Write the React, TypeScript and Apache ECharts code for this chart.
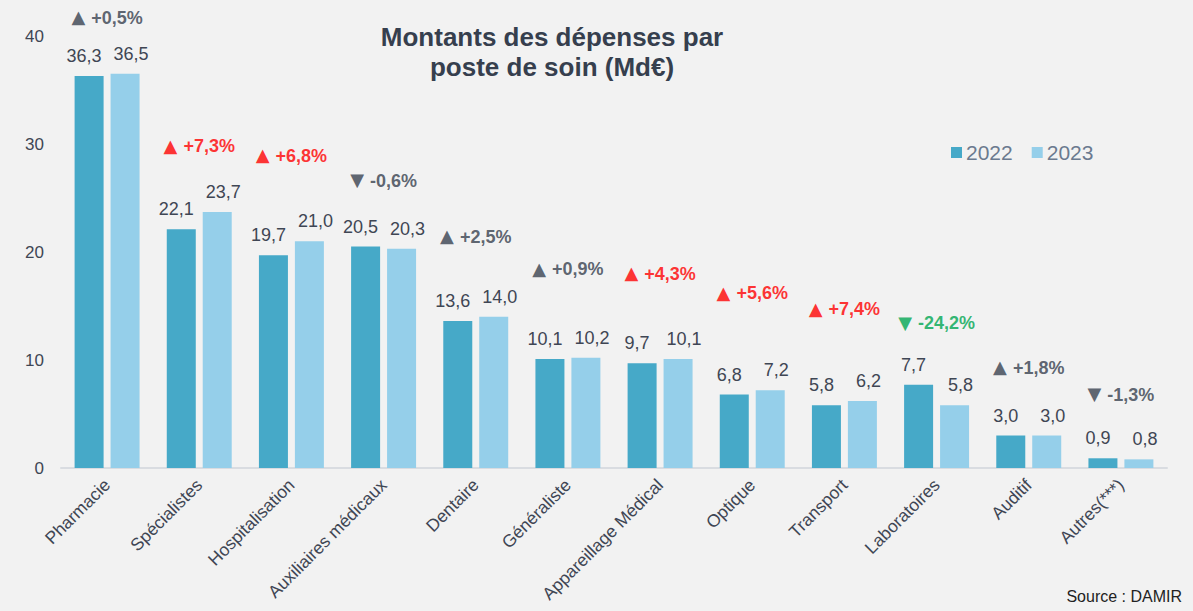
import React, { useEffect, useRef } from "react";
import * as echarts from "echarts";

const categories = [
  "Pharmacie",
  "Spécialistes",
  "Hospitalisation",
  "Auxiliaires médicaux",
  "Dentaire",
  "Généraliste",
  "Appareillage Médical",
  "Optique",
  "Transport",
  "Laboratoires",
  "Auditif",
  "Autres(***)",
];
const values2022 = [36.3, 22.1, 19.7, 20.5, 13.6, 10.1, 9.7, 6.8, 5.8, 7.7, 3.0, 0.9];
const values2023 = [36.5, 23.7, 21.0, 20.3, 14.0, 10.2, 10.1, 7.2, 6.2, 5.8, 3.0, 0.8];
const changeLabels = [
  "+0,5%",
  "+7,3%",
  "+6,8%",
  "-0,6%",
  "+2,5%",
  "+0,9%",
  "+4,3%",
  "+5,6%",
  "+7,4%",
  "-24,2%",
  "+1,8%",
  "-1,3%",
];
const changeKinds = ["n", "r", "r", "n", "n", "n", "r", "r", "r", "g", "n", "n"];
// vertical placement of the change annotations (axis units)
const changeLevels = [41.7, 29.8, 28.9, 26.6, 21.4, 18.4, 18.0, 16.2, 14.7, 13.4, 9.3, 6.8];
const yTicks = [0, 10, 20, 30, 40];

const FONT = "'Liberation Sans', Arial, sans-serif";
const kindColor: Record<string, string> = { n: "#363F4E", r: "#FF0000", g: "#00A651" };
const fmt = (v: number) => v.toFixed(1).replace(".", ",");

export default function App() {
  const ref = useRef<HTMLDivElement>(null);
  useEffect(() => {
    if (!ref.current) return;
    document.body.style.margin = "0";
    const chart = echarts.init(ref.current, null, { renderer: "svg" });
    const valueLabel = (dx: number) => ({
      show: true,
      position: "top" as const,
      distance: 11,
      offset: [dx, 0],
      fontFamily: FONT,
      fontSize: 18,
      color: "#3F4654",
      formatter: (p: any) => fmt(p.value),
    });
    const rich: Record<string, any> = {};
    Object.keys(kindColor).forEach((k) => {
      rich["t" + k] = {
        fontFamily: "'DejaVu Sans', sans-serif",
        fontSize: 18,
        color: kindColor[k],
        padding: [0, 6, 2, 0],
      };
      rich["v" + k] = {
        fontFamily: FONT,
        fontSize: 18,
        fontWeight: "bold",
        color: kindColor[k],
      };
    });
    chart.setOption({
      animation: false,
      backgroundColor: "#F2F2F2",
      textStyle: { fontFamily: FONT },
      title: {
        text: "Montants des dépenses par\nposte de soin (Md€)",
        left: 547,
        top: 17,
        textAlign: "center",
        textStyle: {
          fontFamily: FONT,
          fontSize: 26,
          fontWeight: "bold",
          color: "#363F4E",
          lineHeight: 30,
        },
      },
      legend: {
        data: ["2022", "2023"],
        left: 946,
        top: 137,
        itemWidth: 11,
        itemHeight: 11,
        itemGap: 19,
        icon: "rect",
        textStyle: { fontFamily: FONT, fontSize: 21, color: "#6B7A8F", padding: [0, 0, 0, -1] },
      },
      grid: {
        left: 61,
        right: 26,
        top: 36,
        bottom: 143,
        containLabel: false,
        outerBoundsMode: "none",
      },
      xAxis: {
        type: "category",
        data: categories,
        axisLine: { lineStyle: { color: "#D9DCE1", width: 2 } },
        axisTick: { show: false },
        axisLabel: {
          rotate: 45,
          interval: 0,
          margin: 14,
          fontFamily: FONT,
          fontSize: 17.5,
          color: "#3F4654",
        },
      },
      yAxis: {
        type: "value",
        min: yTicks[0],
        max: yTicks[yTicks.length - 1],
        interval: 10,
        splitLine: { show: false },
        axisLine: { show: false },
        axisTick: { show: false },
        axisLabel: { margin: 17, fontFamily: FONT, fontSize: 17, color: "#3F4654" },
      },
      series: [
        {
          name: "2022",
          type: "bar",
          data: values2022,
          barWidth: 29,
          barGap: "24%",
          itemStyle: { color: "#46A9C8" },
          label: valueLabel(-5),
        },
        {
          name: "2023",
          type: "bar",
          data: values2023,
          barWidth: 29,
          itemStyle: { color: "#95CFEA" },
          label: valueLabel(6),
        },
        {
          name: "change",
          type: "scatter",
          clip: false,
          symbolSize: 0,
          z: 10,
          data: categories.map((c, i) => ({ value: [c, changeLevels[i]] })),
          label: {
            show: true,
            position: "inside",
            formatter: (p: any) => {
              const i = p.dataIndex;
              const k = changeKinds[i];
              const tri = changeLabels[i].startsWith("-") ? "▼" : "▲";
              return `{t${k}|${tri}}{v${k}|${changeLabels[i]}}`;
            },
            rich,
          },
          tooltip: { show: false },
        },
      ],
      graphic: [
        {
          type: "text",
          right: 11,
          bottom: 7,
          style: { text: "Source : DAMIR", fontFamily: FONT, fontSize: 16, fill: "#222222" },
        },
      ],
    });
    return () => chart.dispose();
  }, []);
  return <div ref={ref} style={{ width: 1193, height: 611 }} />;
}
